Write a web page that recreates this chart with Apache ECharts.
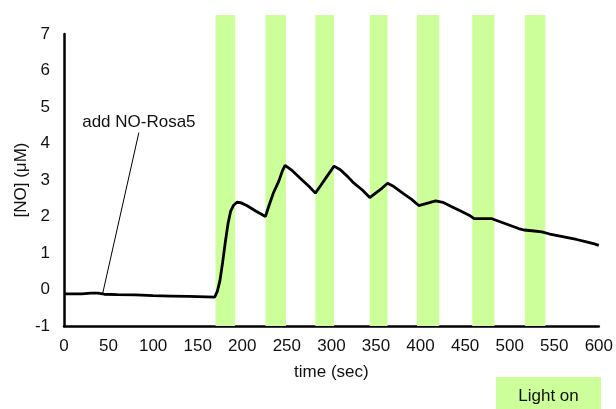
<!DOCTYPE html>
<html>
<head>
<meta charset="utf-8">
<script src="https://cdn.jsdelivr.net/npm/echarts@6/dist/echarts.min.js"></script>
<style>
  html, body { margin: 0; padding: 0; background: #fff; }
  #chart { width: 616px; height: 409px; }
</style>
</head>
<body>
<div id="chart"></div>
<script>
// NO release trace: time (s) and measured [NO] (µM)
var timeSec = [0, 20, 30, 38, 45, 60, 80, 100, 120, 140, 160, 169, 172, 175, 178, 181, 184, 187, 190, 194,
  198, 205, 215, 226, 230, 235, 241, 245, 248, 255, 265, 275, 282, 288, 295, 303, 310, 318, 325, 335,
  343, 350, 357, 363, 370, 380, 390, 398, 404, 410, 417, 425, 435, 445, 455, 460, 470, 480, 490, 500,
  510, 516, 525, 536, 545, 555, 565, 575, 585, 595, 600];
var noConc = [-0.12, -0.12, -0.10, -0.10, -0.13, -0.14, -0.15, -0.17, -0.18, -0.19, -0.20, -0.21, -0.05, 0.25, 0.75, 1.3, 1.8, 2.15, 2.3, 2.39,
  2.38, 2.30, 2.15, 2.00, 2.3, 2.65, 2.97, 3.25, 3.40, 3.28, 3.05, 2.82, 2.64, 2.85, 3.1, 3.38, 3.28, 3.10, 2.92, 2.72,
  2.52, 2.65, 2.78, 2.91, 2.82, 2.64, 2.47, 2.30, 2.34, 2.38, 2.43, 2.39, 2.27, 2.15, 2.03, 1.94, 1.94, 1.94, 1.85, 1.76,
  1.67, 1.63, 1.61, 1.58, 1.52, 1.47, 1.42, 1.37, 1.31, 1.25, 1.21];

// Illumination periods (start, end) in seconds
var lightStart = [170, 226, 282, 343, 396, 458, 517];
var lightEnd   = [192, 249, 303, 363, 421, 483, 540];
var lightTop = 7.52;   // bands run slightly above the top of the axis
var lightBottom = -1;

// Annotation: where NO-Rosa5 was added, and where its label sits
var addPoint = [43, -0.15];
var addLabelPoint = [84, 4.3];
var addLabelText = 'add NO-Rosa5';

// Axis ticks
var xTicks = [0, 50, 100, 150, 200, 250, 300, 350, 400, 450, 500, 550, 600];
var yTicks = [-1, 0, 1, 2, 3, 4, 5, 6, 7];

var FONT = '"Liberation Sans", Arial, sans-serif';
var FS = 17;
var TXT = '#111';
var GREEN = '#ccff99';

var traceData = timeSec.map(function (t, i) { return [t, noConc[i]]; });
var lightData = lightStart.map(function (s, i) { return [s, lightEnd[i]]; });

var chart = echarts.init(document.getElementById('chart'), null, { renderer: 'canvas' });

chart.setOption({
  animation: false,
  backgroundColor: '#fff',
  grid: { left: 64, right: 13, top: 34, bottom: 83, containLabel: false },
  xAxis: {
    type: 'value',
    min: xTicks[0], max: xTicks[xTicks.length - 1], interval: 50,
    name: 'time (sec)', nameLocation: 'middle', nameGap: 38,
    nameTextStyle: { fontFamily: FONT, fontSize: FS, color: TXT },
    axisLine: { onZero: false, lineStyle: { color: '#000', width: 2.5 } },
    axisTick: { show: false },
    splitLine: { show: false },
    axisLabel: { fontFamily: FONT, fontSize: FS, color: TXT, margin: 12 }
  },
  yAxis: {
    type: 'value',
    min: yTicks[0], max: yTicks[yTicks.length - 1], interval: 1,
    name: '[NO] (μM)', nameLocation: 'middle', nameGap: 34,
    nameMoveOverlap: false,
    nameTextStyle: { fontFamily: FONT, fontSize: FS, color: TXT },
    axisLine: { lineStyle: { color: '#000', width: 2.5 } },
    axisTick: { show: false },
    splitLine: { show: false },
    axisLabel: { fontFamily: FONT, fontSize: FS, color: TXT, margin: 14 }
  },
  series: [
    {
      // green "light on" bands
      type: 'custom',
      clip: false,
      z: 1,
      silent: true,
      data: lightData,
      renderItem: function (params, api) {
        var p0 = api.coord([api.value(0), lightTop]);
        var p1 = api.coord([api.value(1), lightBottom]);
        return {
          type: 'rect',
          shape: { x: p0[0], y: p0[1], width: p1[0] - p0[0], height: p1[1] - p0[1] },
          style: { fill: GREEN }
        };
      }
    },
    {
      // pointer from the label to the addition time
      type: 'line',
      z: 3,
      silent: true,
      data: [addPoint, addLabelPoint],
      showSymbol: false,
      symbol: 'none',
      lineStyle: { color: '#000', width: 1 }
    },
    {
      type: 'line',
      z: 5,
      data: traceData,
      showSymbol: false,
      symbol: 'none',
      lineStyle: { color: '#000', width: 2.8 }
    }
  ],
  graphic: [
    {
      type: 'group',
      right: 15,
      bottom: 0,
      children: [
        { type: 'rect', shape: { x: 0, y: 0, width: 105, height: 32 }, style: { fill: GREEN } },
        {
          type: 'text', x: 52.5, y: 19,
          style: { text: 'Light on', fontFamily: FONT, fontSize: FS, fill: TXT, align: 'center', verticalAlign: 'middle' }
        }
      ]
    }
  ]
});

// Place the annotation text just above the pointer's upper end, using the axes' scales
var labelPx = chart.convertToPixel({ gridIndex: 0 }, addLabelPoint);
chart.setOption({
  graphic: [
    {
      id: 'addLabel',
      type: 'text',
      x: labelPx[0],
      y: labelPx[1] - 2,
      z: 10,
      style: {
        text: addLabelText, fontFamily: FONT, fontSize: FS, fill: TXT,
        align: 'center', verticalAlign: 'bottom'
      }
    }
  ]
});
</script>
</body>
</html>
